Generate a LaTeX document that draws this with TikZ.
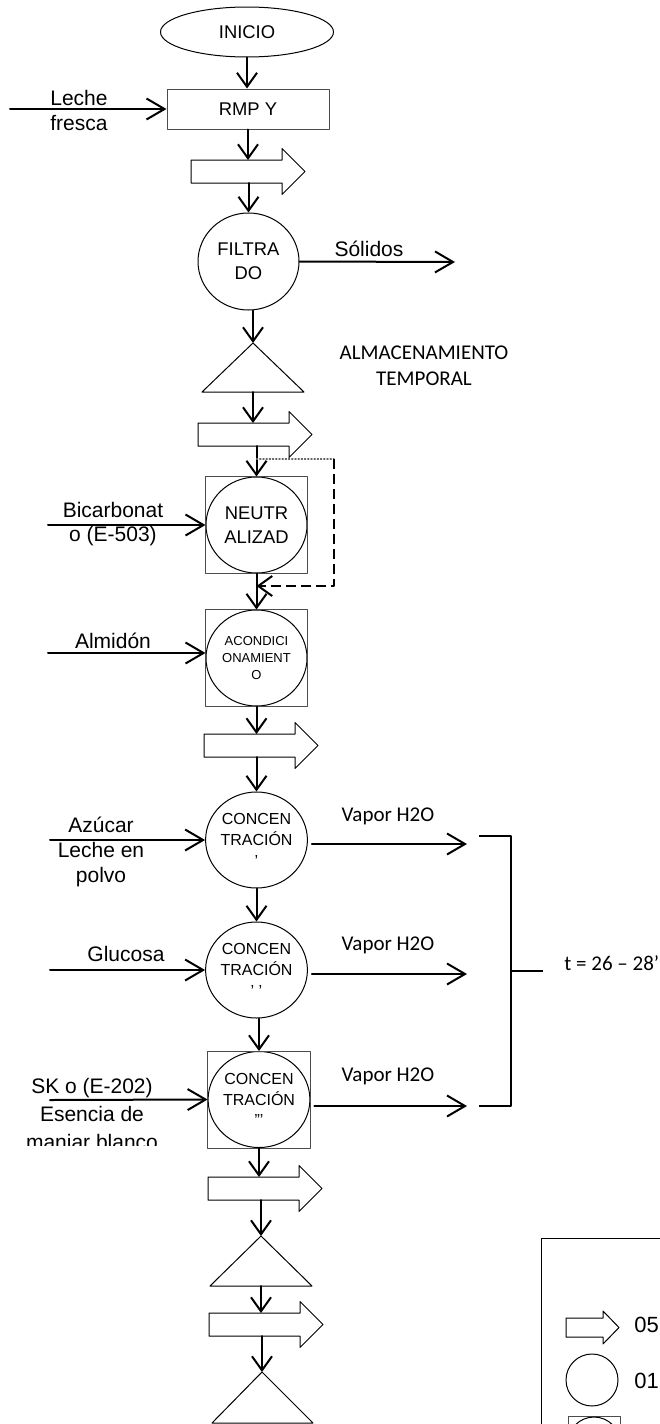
\documentclass[tikz,border=0pt]{standalone}
\usepackage{fontspec}
\setmainfont{Liberation Sans}
\newfontfamily\calibri{Carlito}
\usetikzlibrary{arrows.meta,positioning,shapes.geometric}

\begin{document}
\begin{tikzpicture}[x=0.5pt,y=-0.5pt,line cap=round,line join=round,
  forma/.style={draw=black,line width=.5pt},
  caja/.style={draw=black!70,line width=.5pt},
  proceso/.style={forma,ellipse,inner sep=0pt,minimum width=50.5pt,minimum height=48pt,align=center,font=\fontsize{9.2}{12}\selectfont},
  flujo/.style={line width=1pt,-{Straight Barb[length=7pt,width=10pt]}},
  entrada/.style={line width=1pt,-{Straight Barb[length=9pt,width=10.5pt]}},
  etiqueta/.style={align=center,inner sep=0pt,font=\fontsize{10.5}{12.3}\selectfont},
  nota/.style={align=center,inner sep=0pt,font=\calibri\fontsize{10.5}{13}\selectfont}]
\path[use as bounding box] (0,0) rectangle (659,1424);
% columna principal
\node[forma,ellipse,inner sep=0pt,minimum width=86.5pt,minimum height=25pt,font=\fontsize{9.2}{11}\selectfont] (inicio) at (247,32) {INICIO};
\node[caja,rectangle,inner sep=0pt,minimum width=81pt,minimum height=20pt,font=\fontsize{9.2}{11}\selectfont] (rmp) at (248,109) {RMP Y};
\coordinate (t1) at (191,160);
\coordinate (t1b) at (191,183);
\draw[forma] (t1) -- ++(91,0) -- ++(0,-11.5) -- ++(23,23) -- ++(-23,23) -- ++(0,-11.5) -- ++(-91,0) -- cycle;
\node[proceso,minimum height=48.5pt] (filt) at (248.5,261.5) {FILTRA\\DO};
\coordinate (tri1) at (253,343);
\coordinate (tri1b) at (253,392);
\draw[forma] (tri1) -- (304,392) -- (202,392) -- cycle;
\coordinate (t2) at (198,423);
\coordinate (t2b) at (198,446);
\draw[forma] (t2) -- ++(91,0) -- ++(0,-11.5) -- ++(23,23) -- ++(-23,23) -- ++(0,-11.5) -- ++(-91,0) -- cycle;
\node[proceso] (neu) at (256.5,525) {NEUTR\\ALIZAD};
\draw[caja] (neu.west |- neu.north) rectangle (neu.east |- neu.south);
\node[proceso,font=\fontsize{6.5}{8.3}\selectfont] (acon) at (256.5,658) {ACONDICI\\ONAMIENT\\O};
\draw[caja] (acon.west |- acon.north) rectangle (acon.east |- acon.south);
\coordinate (t3) at (204,734);
\coordinate (t3b) at (204,757);
\draw[forma] (t3) -- ++(91,0) -- ++(0,-11.5) -- ++(23,23) -- ++(-23,23) -- ++(0,-11.5) -- ++(-91,0) -- cycle;
\node[proceso,font=\fontsize{8}{10.3}\selectfont] (c1) at (256.5,840) {CONCEN\\TRACIÓN\\'};
\node[proceso,font=\fontsize{8}{10.3}\selectfont] (c2) at (256.5,970) {CONCEN\\TRACIÓN\\' '};
\node[proceso,font=\fontsize{8}{10.3}\selectfont] (c3) at (259,1099.5) {CONCEN\\TRACIÓN\\'''};
\draw[caja] (c3.west |- c3.north) rectangle (c3.east |- c3.south);
\coordinate (t4) at (208,1177);
\coordinate (t4b) at (208,1200);
\draw[forma] (t4) -- ++(91,0) -- ++(0,-11.5) -- ++(23,23) -- ++(-23,23) -- ++(0,-11.5) -- ++(-91,0) -- cycle;
\coordinate (tri2) at (261,1236);
\coordinate (tri2b) at (261,1286);
\draw[forma] (tri2) -- (312,1286) -- (210,1286) -- cycle;
\coordinate (t5) at (209,1313);
\coordinate (t5b) at (209,1336);
\draw[forma] (t5) -- ++(91,0) -- ++(0,-11.5) -- ++(23,23) -- ++(-23,23) -- ++(0,-11.5) -- ++(-91,0) -- cycle;
\coordinate (tri3) at (262,1372);
\draw[forma] (tri3) -- (313,1423) -- (212,1423) -- cycle;
% flechas de la columna
\draw[flujo] (inicio.south) -- (inicio.south |- rmp.north);
\draw[flujo] (rmp.south) -- (rmp.south |- t1);
\draw[flujo] (t1b -| filt.north) -- (filt.north);
\draw[flujo] (tri1 |- filt.south) -- (tri1);
\draw[flujo] (tri1b) -- (tri1b |- t2);
\draw[flujo] (t2b -| neu.north) -- (neu.north);
\draw[flujo] (neu.south) -- (acon.north);
\draw[flujo] (acon.south) -- (acon.south |- t3);
\draw[flujo] (t3b -| c1.north) -- (c1.north);
\draw[flujo] (c1.south) -- (c2.north);
\draw[flujo] (c3.north |- c2.south) -- (c3.north);
\draw[flujo] (c3.south) -- (c3.south |- t4);
\draw[flujo] (t4b -| tri2) -- (tri2);
\draw[flujo] (tri2b) -- (tri2b |- t5);
\draw[flujo] (t5b -| tri3) -- (tri3);
% recirculacion
\coordinate (lazo1) at (334,459);
\coordinate (lazo2) at (334,586);
\draw[black!60,densely dotted,line width=.6pt] (lazo1 -| neu.north) -- (lazo1);
\draw[flujo,line cap=butt,dash pattern=on 5pt off 2.5pt] (lazo1) -- (lazo2) -- (lazo2 -| neu.south);
% entradas
\coordinate (leche) at (10,109);
\draw[entrada] (leche) -- (rmp.west);
\node[etiqueta] (lbleche) at (79,110.5) {Leche\\fresca};
\coordinate (bica) at (48,525);
\draw[entrada] (bica) -- (neu.west);
\node[etiqueta] (lbbica) at (113,524) {Bicarbonat\\o (E-503)};
\coordinate (almi) at (48,653);
\draw[entrada] (almi) -- (almi -| acon.west);
\node[etiqueta] (lbalmi) at (113,641) {Almidón};
\coordinate (azuc) at (50,840);
\draw[entrada] (azuc) -- (c1.west);
\node[etiqueta,font=\fontsize{10.5}{12.5}\selectfont] (lbazuc) at (101,852) {Azúcar\\Leche en\\polvo};
\coordinate (gluc) at (50,970);
\draw[entrada] (gluc) -- (c2.west);
\node[etiqueta] (lbgluc) at (126,954) {Glucosa};
\coordinate (sk) at (50,1100);
\draw[entrada] (sk) -- (c3.west);
\begin{scope}
\clip (0,1060) rectangle (200,1145);
\node[etiqueta,font=\fontsize{10.5}{14}\selectfont] (lbsk) at (92,1116) {SK o (E-202)\\Esencia de\\manjar blanco};
\end{scope}
% salidas
\coordinate (sol) at (455,262);
\draw[entrada] (filt.east) -- (sol);
\node[etiqueta] (lbsol) at (369,249) {Sólidos};
\node[nota,font=\calibri\fontsize{10.5}{13}\selectfont] (almac) at (424,366) {ALMACENAMIENTO\\TEMPORAL};
\coordinate (vap1) at (467,844);
\coordinate (vap2) at (467,974);
\coordinate (vap3) at (467,1106);
\draw[entrada,shorten <=2pt] (c1.east |- vap1) -- (vap1);
\draw[entrada,shorten <=2pt] (c2.east |- vap2) -- (vap2);
\draw[entrada,shorten <=2pt] (c3.east |- vap3) -- (vap3);
\node[nota] (lbvap1) at (388,816) {Vapor H2O};
\node[nota] (lbvap2) at (388,945) {Vapor H2O};
\node[nota] (lbvap3) at (388,1076) {Vapor H2O};
\draw[line width=1pt,line cap=butt] (479,836) -- (511,836) -- (511,1106) -- (479,1106);
\coordinate (llave) at (543,971);
\draw[line width=1pt,line cap=butt] (511,971) -- (llave);
\node[nota,anchor=west] (tiempo) at (564,963) {t = 26 – 28’};
% leyenda
\draw[forma] (541,1238) rectangle (700,1500);
\draw[forma] (566,1318) -- (603,1318) -- (603,1311) -- (619,1327.5) -- (603,1344) -- (603,1337) -- (566,1337) -- cycle;
\node[anchor=west,inner sep=0pt,font=\fontsize{11}{13}\selectfont] (ley1) at (634,1325) {05};
\draw[forma] (592,1380) circle [radius=13pt];
\node[anchor=west,inner sep=0pt,font=\fontsize{11}{13}\selectfont] (ley2) at (634,1381) {01};
\draw[caja] (568,1416) rectangle (620,1468);
\draw[forma] (594,1443) circle [radius=13pt];
\end{tikzpicture}
\end{document}
